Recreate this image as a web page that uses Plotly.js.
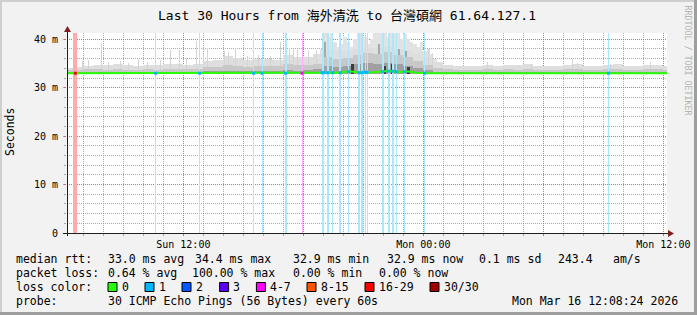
<!DOCTYPE html>
<html><head><meta charset="utf-8">
<script src="https://cdn.plot.ly/plotly-3.0.1.min.js"></script>
<style>html,body{margin:0;padding:0;background:#f2f2f2;}#chart{width:697px;height:315px;}</style>
</head><body><div id="chart"></div>
<script>
// ---------- data (times are "Day HH:MM", values in milliseconds) ----------
const xTickVals = ['Sun 12:00','Sun 18:00','Mon 00:00','Mon 06:00','Mon 12:00'];
const xTickText = ['Sun 12:00','','Mon 00:00','','Mon 12:00'];
const yTickVals = [0,10,20,30,40];
const yTickText = ['0','10 m','20 m','30 m','40 m'];

const pingMin = 32.9;

// median round-trip time
const medianT = ['Sun 06:00','Sun 08:00','Sun 10:00','Sun 12:00','Sun 14:00','Sun 16:00','Sun 18:00','Sun 19:00','Sun 19:45','Sun 20:20','Sun 20:50','Sun 21:30','Sun 22:00','Sun 22:20','Sun 22:45','Sun 23:10','Sun 23:40','Mon 00:10','Mon 03:00','Mon 06:00','Mon 09:00','Mon 12:20'];
const medianV = [33.0,33.0,33.0,33.0,33.0,33.0,33.0,33.1,33.1,33.4,33.1,33.2,33.4,33.5,33.2,33.4,33.1,33.0,33.0,33.0,33.0,33.0];

// smoke envelopes per 30-minute block (block start times)
const smokeT = ['Sun 06:00','Sun 06:30','Sun 07:00','Sun 07:30','Sun 08:00','Sun 08:30','Sun 09:00','Sun 09:30','Sun 10:00','Sun 10:30','Sun 11:00','Sun 11:30','Sun 12:00','Sun 12:30','Sun 13:00','Sun 13:30','Sun 14:00','Sun 14:30','Sun 15:00','Sun 15:30','Sun 16:00','Sun 16:30','Sun 17:00','Sun 17:30','Sun 18:00','Sun 18:30','Sun 19:00','Sun 19:30','Sun 20:00','Sun 20:30','Sun 21:00','Sun 21:30','Sun 22:00','Sun 22:30','Sun 23:00','Sun 23:30','Mon 00:00','Mon 00:30','Mon 01:00','Mon 01:30','Mon 02:00','Mon 02:30','Mon 03:00','Mon 03:30','Mon 04:00','Mon 04:30','Mon 05:00','Mon 05:30','Mon 06:00','Mon 06:30','Mon 07:00','Mon 07:30','Mon 08:00','Mon 08:30','Mon 09:00','Mon 09:30','Mon 10:00','Mon 10:30','Mon 11:00','Mon 11:30','Mon 12:00'];
const smokeMax = [34.0,34.3,34.5,34.6,34.6,34.8,34.6,34.4,34.7,34.6,35.0,34.8,34.7,35.0,35.6,35.8,36.6,36.2,35.8,36.0,35.9,35.8,36.8,36.4,36.4,37.0,37.8,37.5,37.6,38.0,38.2,38.2,38.4,38.0,37.8,37.2,36.4,35.4,34.6,34.4,34.5,34.4,34.6,34.5,34.7,34.6,34.8,34.5,34.4,34.5,34.6,34.8,34.5,34.4,34.6,34.8,34.5,34.4,34.6,34.7,34.5];
const smokeMid = [33.6,33.7,33.8,33.8,33.7,33.8,33.7,33.7,33.8,33.7,33.9,33.8,33.8,33.9,34.2,34.3,34.6,34.5,34.3,34.5,34.4,34.4,34.8,34.6,34.7,35.0,36.3,36.0,36.2,36.8,37.2,37.0,37.3,36.8,36.3,35.5,34.6,34.0,33.8,33.7,33.7,33.7,33.8,33.7,33.8,33.7,33.8,33.7,33.7,33.7,33.8,33.8,33.7,33.7,33.8,33.8,33.7,33.7,33.8,33.8,33.7];
const smokeCore = [33.2,33.2,33.2,33.2,33.2,33.2,33.2,33.2,33.2,33.2,33.2,33.2,33.2,33.2,33.4,33.4,33.5,33.5,33.4,33.5,33.4,33.4,33.6,33.5,33.6,33.8,34.5,34.3,34.5,34.9,35.1,34.9,35.1,34.9,34.5,34.1,33.6,33.3,33.2,33.2,33.2,33.2,33.2,33.2,33.2,33.2,33.2,33.2,33.2,33.2,33.2,33.2,33.2,33.2,33.2,33.2,33.2,33.2,33.2,33.2,33.2];

// upper smoke during the congested evening, 10-minute blocks
const eveT = ['Sun 18:50','Sun 19:00','Sun 19:10','Sun 19:20','Sun 19:30','Sun 19:40','Sun 19:50','Sun 20:00','Sun 20:10','Sun 20:20','Sun 20:30','Sun 20:40','Sun 20:50','Sun 21:00','Sun 21:10','Sun 21:20','Sun 21:30','Sun 21:40','Sun 21:50','Sun 22:00','Sun 22:10','Sun 22:20','Sun 22:30','Sun 22:40','Sun 22:50','Sun 23:00','Sun 23:10','Sun 23:20','Sun 23:30','Sun 23:40','Sun 23:50','Mon 00:00','Mon 00:10','Mon 00:20','Mon 00:30'];
const eveV = [38.0,41.4,40.5,41.4,39.5,38.5,39.0,40.5,39.5,38.5,40.0,41.4,41.4,40.5,39.0,40.0,41.4,41.4,41.4,41.4,40.5,41.4,41.4,41.4,40.0,41.0,40.0,39.5,39.0,38.5,39.5,37.5,38.0,37.0,36.0];

// single tall smoke spikes
const spikeT = ['Sun 06:57','Sun 07:15','Sun 07:54','Sun 08:15','Sun 08:51','Sun 09:15','Sun 09:45','Sun 10:12','Sun 10:51','Sun 11:21','Sun 11:48','Sun 12:09','Sun 12:39','Sun 13:00','Sun 13:12','Sun 14:03','Sun 14:15','Sun 14:36','Sun 15:12','Sun 15:45','Sun 16:21','Sun 16:51','Sun 17:18','Sun 17:30','Sun 17:42','Sun 18:15','Sun 18:39','Mon 00:15','Mon 00:27','Mon 03:12','Mon 05:24','Mon 07:27','Mon 07:42','Mon 09:21','Mon 11:21'];
const spikeV = [35.6,35.8,39.2,35.4,35.5,35.2,35.9,35.4,35.7,37.7,37.8,36.2,39.7,37.0,38.3,37.6,37.4,38.3,36.5,36.8,36.5,39.4,38.3,38.0,37.8,37.5,37.8,38.0,37.2,35.3,35.0,35.9,35.2,35.0,35.3];

// dense smoke columns in the congested evening
const greyColT = ['Sun 19:06','Sun 20:47','Sun 21:47','Sun 22:47','Sun 23:08'];
const greyColV = [39.5,38.5,39.0,38.0,37.5];
const darkColT = ['Sun 20:26','Sun 22:02','Sun 22:26','Sun 23:15'];
const darkColV = [35.0,34.5,35.0,34.3];

// packet loss events: time, loss class index, duration (minutes), median at that time
const lossT = ['Sun 06:36','Sun 10:37','Sun 12:49','Sun 15:31','Sun 15:56','Sun 17:07','Sun 17:56','Sun 18:56','Sun 19:01','Sun 19:13','Sun 19:28','Sun 19:51','Sun 20:16','Sun 20:47','Sun 20:56','Sun 21:06','Sun 21:11','Sun 21:58','Sun 22:16','Sun 22:28','Sun 22:39','Sun 23:04','Mon 00:04','Mon 09:16'];
const lossClass = [6,1,1,1,1,1,4,1,1,1,1,1,1,1,1,1,1,1,1,1,1,1,1,1];
const lossMin = [12,3,3,3,3,6,3,3,3,6,3,6,3,6,6,3,3,6,6,6,3,3,3,3];
const lossMed = [33.0,33.0,33.0,33.0,33.0,33.0,33.0,33.1,33.1,33.1,33.1,33.1,33.3,33.1,33.1,33.2,33.2,33.3,33.4,33.4,33.3,33.3,33.0,33.0];

// loss colour legend
const lossLabels = ['0','1','2','3','4-7','8-15','16-29','30/30'];
const lossColors = ['#26ff00','#00b8ff','#0059ff','#5e00ff','#ff00ff','#ff5500','#ff0000','#a00000'];

// legend text
const statsRtt = ['median rtt:','33.0 ms avg','34.4 ms max','32.9 ms min','32.9 ms now','0.1 ms sd','243.4','am/s'];
const statsLoss = ['packet loss:','0.64 % avg','100.00 % max','0.00 % min','0.00 % now'];
const probeText = ['probe:','30 ICMP Echo Pings (56 Bytes) every 60s','Mon Mar 16 12:08:24 2026'];
const titleText = 'Last 30 Hours from 海外清洗 to 台灣碩網 61.64.127.1';

// ---------- helpers ----------
const DAY = {Sun:'2026-03-15', Mon:'2026-03-16'};
const ts = s => DAY[s.slice(0,3)] + ' ' + s.slice(4);
const T = a => a.map(ts);
const MIN = 60000;
const L = 67, R = 667, TOP = 33, BOT = 233;
const px = x => (x - L) / (R - L);
const py = y => (BOT - y) / (BOT - TOP);
const yRange = [0, 41.3];
function lighten(hex, a) {
  const n = parseInt(hex.slice(1), 16);
  const c = [(n>>16)&255, (n>>8)&255, n&255].map(v => Math.round(v*a + 255*(1-a)));
  return 'rgb(' + c.join(',') + ')';
}
const FONT = 'DejaVu Sans Mono, Noto Sans CJK TC, monospace';

// ---------- traces ----------
const above = a => a.map(v => v - pingMin);
const sbar = (x, y, w, col, extra) => Object.assign({type:'bar', x:T(x), y:above(y), base:pingMin, width:w,
  marker:{color:col, line:{width:0}}, hoverinfo:'skip'}, extra||{});
const traces = [
  sbar(eveT, eveV, 10*MIN, '#e2e2e2', {offset:0}),
  sbar(smokeT, smokeMax, 30*MIN, '#dedede', {offset:0}),
  sbar(spikeT, spikeV, 3*MIN, '#d4d4d4'),
  sbar(greyColT, greyColV, 6*MIN, '#a8a8a8'),
  sbar(smokeT, smokeMid, 30*MIN, '#c8c8c8', {offset:0}),
  sbar(smokeT, smokeCore, 30*MIN, '#a0a0a0', {offset:0}),
  sbar(darkColT, darkColV, 9*MIN, '#3c3c3c'),
  // loss background bars (full height)
  {type:'bar', x:T(lossT), y:lossT.map(() => 1), base:0, width:lossMin.map(m => m*MIN),
   yaxis:'y2', marker:{color:lossClass.map(c => lighten(lossColors[c], 0.33)), line:{width:0}}, hoverinfo:'skip'},
  // median
  {type:'scatter', mode:'lines', x:T(medianT), y:medianV, yaxis:'y3',
   line:{color:lossColors[0], width:2}, hoverinfo:'skip'},
  {type:'scatter', mode:'markers', x:T(lossT), y:lossMed, yaxis:'y3',
   marker:{symbol:'square', size:3, color:lossClass.map(c => lossColors[c]), line:{width:0}}, hoverinfo:'skip'}
];

// ---------- annotations ----------
const ann = [];
function txt(s, x, y, opt) {
  ann.push(Object.assign({text:s, xref:'paper', yref:'paper', x:px(x), y:py(y), xanchor:'left', yanchor:'middle',
    showarrow:false, borderpad:0, borderwidth:0, font:{family:FONT, size:11.5, color:'#000'}}, opt||{}));
}
const rttX = [16,107.6,194.7,293,386.7,479,557.8,613];
statsRtt.forEach((s,i) => txt(s, rttX[i], 259));
const lossX = [16,107.6,192.4,293,378.7];
statsLoss.forEach((s,i) => txt(s, lossX[i], 273));
txt('loss color:', 16, 287);
const boxX = [108,145,182,219.6,256.4,307,365,430];
const labX = [122,159,196,233,270,321,379,444];
lossLabels.forEach((s,i) => txt(s, labX[i], 287));
txt(probeText[0], 16, 301);
txt(probeText[1], 107.6, 301);
txt(probeText[2], 512.4, 301);
txt('Seconds', 10, 132, {xanchor:'center', textangle:-90});
txt('RRDTOOL / TOBI OETIKER', 687.5, 60, {xanchor:'center', textangle:90, font:{family:FONT, size:8.3, color:'#b4b4b4'}});

// ---------- shapes ----------
const shapes = [];
const line = (x0,y0,x1,y1,c,w) => shapes.push({type:'line', xref:'paper', yref:'paper', x0:px(x0), y0:py(y0), x1:px(x1), y1:py(y1), line:{color:c, width:w}});
line(1,0,1,315,'#cfcfcf',2);
line(0,1,697,1,'#cfcfcf',2);
line(695.5,0,695.5,315,'#9e9e9e',3);
line(0,313.5,697,313.5,'#9e9e9e',3);
line(63,233.5,668,233.5,'#1f1f1f',1);
line(67.5,236,67.5,30,'#1f1f1f',1);
const path = (pts,c) => shapes.push({type:'path', xref:'paper', yref:'paper',
  path:'M' + pts.map(p => px(p[0]) + ',' + py(p[1])).join('L') + 'Z', fillcolor:c, line:{width:0}});
path([[67.5,26],[64,32],[71,32]], '#801f1f');
path([[674,233.5],[668,230],[668,237]], '#801f1f');
boxX.forEach((x,i) => shapes.push({type:'rect', xref:'paper', yref:'paper', x0:px(x), x1:px(x+9), y0:py(282.5), y1:py(291.5),
  fillcolor:lossColors[i], line:{color:'#000', width:1}}));

const minorGrid = 'rgba(143,143,143,0.75)';
const majorGrid = 'rgba(222,79,79,0.6)';
const layout = {
  width:697, height:315,
  margin:{l:L, r:697-R, t:TOP, b:315-BOT, pad:0},
  paper_bgcolor:'#f2f2f2', plot_bgcolor:'#ffffff',
  showlegend:false, barmode:'overlay', bargap:0,
  font:{family:FONT, size:10, color:'#000'},
  title:{text:titleText, x:347/697, xanchor:'center', y:1-15/315, yanchor:'middle', font:{family:FONT, size:13, color:'#000'}},
  xaxis:{type:'date', range:[ts('Sun 06:11'), ts('Mon 12:11')], tickmode:'array', tickvals:T(xTickVals), ticktext:xTickText,
    ticks:'outside', ticklen:2, tickcolor:majorGrid, showgrid:true, gridcolor:majorGrid, griddash:'1px,1px', gridwidth:1,
    minor:{tickmode:'linear', tick0:ts('Sun 00:00'), dtick:3600000, showgrid:true, gridcolor:minorGrid, griddash:'1px,1px', ticks:'outside', ticklen:2, tickcolor:minorGrid},
    showline:false, zeroline:false, fixedrange:true, tickfont:{family:FONT, size:10}},
  yaxis:{range:yRange, tickmode:'array', tickvals:yTickVals, ticktext:yTickText, ticks:'outside', ticklen:3, tickcolor:majorGrid,
    showgrid:true, gridcolor:majorGrid, griddash:'1px,1px', gridwidth:1, ticklabelstandoff:3,
    minor:{tickmode:'linear', tick0:0, dtick:2, showgrid:true, gridcolor:minorGrid, griddash:'1px,1px', ticks:'outside', ticklen:2, tickcolor:minorGrid},
    showline:false, zeroline:false, fixedrange:true, tickfont:{family:FONT, size:10}},
  yaxis2:{overlaying:'y', range:[0,1], visible:false, fixedrange:true},
  yaxis3:{overlaying:'y', range:yRange, visible:false, fixedrange:true},
  annotations:ann, shapes:shapes
};
Plotly.newPlot('chart', traces, layout, {staticPlot:true, displayModeBar:false});
</script></body></html>
